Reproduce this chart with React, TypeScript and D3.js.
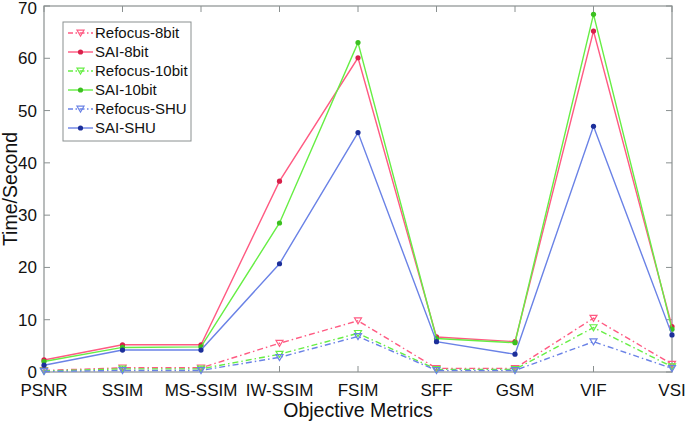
import React from "react";
import * as d3 from "d3";

const categories = ["PSNR", "SSIM", "MS-SSIM", "IW-SSIM", "FSIM", "SFF", "GSM", "VIF", "VSI"];
const yTicks = [0, 10, 20, 30, 40, 50, 60, 70];

const refocus8 = [0.3, 0.8, 0.8, 5.5, 9.8, 0.7, 0.7, 10.3, 1.5];
const sai8 = [2.3, 5.2, 5.2, 36.5, 60.1, 6.7, 5.8, 65.2, 8.7];
const refocus10 = [0.2, 0.6, 0.6, 3.4, 7.4, 0.5, 0.5, 8.5, 1.0];
const sai10 = [2.0, 4.7, 4.8, 28.5, 63.0, 6.4, 5.6, 68.4, 8.2];
const refocusSHU = [0.1, 0.3, 0.3, 2.8, 6.8, 0.3, 0.3, 5.8, 0.7];
const saiSHU = [1.3, 4.2, 4.2, 20.7, 45.8, 5.8, 3.4, 47.0, 7.1];

const seriesNames = ["Refocus-8bit", "SAI-8bit", "Refocus-10bit", "SAI-10bit", "Refocus-SHU", "SAI-SHU"];
const seriesData = [refocus8, sai8, refocus10, sai10, refocusSHU, saiSHU];

const RED = "#ff5a82";
const GREEN = "#66ee44";
const BLUE = "#6a82e6";
const colors = [RED, RED, GREEN, GREEN, BLUE, BLUE];
const markerColors = ["#ff5a82", "#d8204a", "#66ee44", "#3cc020", "#6a82e6", "#1c2f9a"];
const dashed = [true, false, true, false, true, false];

export default function App() {
  const W = 685, H = 422;
  const left = 44, right = 672, top = 6, bottom = 372;
  const x = d3.scalePoint<string>().domain(categories).range([left, right]);
  const y = d3.scaleLinear().domain([0, 70]).range([bottom, top]);
  const line = d3.line<number>().x((_, i) => x(categories[i]) as number).y((d) => y(d));
  const axisColor = "#8a9090";
  const font = "'Liberation Sans', Arial, Helvetica, sans-serif";

  const tri = (cx: number, cy: number, s: number) =>
    `M${cx - s},${cy - s * 0.8}L${cx + s},${cy - s * 0.8}L${cx},${cy + s * 0.9}Z`;

  const marker = (k: number, cx: number, cy: number, key: string) =>
    dashed[k] ? (
      <path key={key} d={tri(cx, cy, 3.5)} fill="none" stroke={markerColors[k]} strokeWidth={1.2} />
    ) : (
      <g key={key}>
        <circle cx={cx} cy={cy} r={2.6} fill={markerColors[k]} />
      </g>
    );

  const legX = 63, legY = 22, legW = 128, legH = 119;

  return (
    <svg width={W} height={H} style={{ position: "absolute", left: 0, top: 0 }}>
      <rect x={0} y={0} width={W} height={H} fill="#fff" />
      <rect x={left} y={top} width={right - left} height={bottom - top} fill="none" stroke={axisColor} strokeWidth={1.2} />
      {categories.map((c) => {
        const px = x(c) as number;
        return (
          <g key={c}>
            <line x1={px} x2={px} y1={bottom} y2={bottom - 6} stroke={axisColor} />
            <line x1={px} x2={px} y1={top} y2={top + 6} stroke={axisColor} />
            <text x={px} y={396} textAnchor="middle" fontFamily={font} fontSize={17} fill="#111">{c}</text>
          </g>
        );
      })}
      {yTicks.map((t) => (
        <g key={t}>
          <line x1={left} x2={left + 6} y1={y(t)} y2={y(t)} stroke={axisColor} />
          <line x1={right} x2={right - 6} y1={y(t)} y2={y(t)} stroke={axisColor} />
          <text x={37} y={Math.max(y(t) + 6, 14)} textAnchor="end" fontFamily={font} fontSize={17} fill="#111">{t}</text>
        </g>
      ))}
      <text x={358} y={417} textAnchor="middle" fontFamily={font} fontSize={19.5} fill="#111">Objective Metrics</text>
      <text transform={`translate(17,${(top + bottom) / 2}) rotate(-90)`} textAnchor="middle" fontFamily={font} fontSize={19.5} fill="#111">Time/Second</text>
      {seriesData.map((s, k) => (
        <g key={k}>
          <path d={line(s) as string} fill="none" stroke={colors[k]} strokeWidth={1.4}
            strokeDasharray={dashed[k] ? "6,3,1.5,3" : undefined} />
          {s.map((v, i) => marker(k, x(categories[i]) as number, y(v), `${k}-${i}`))}
        </g>
      ))}
      <rect x={legX} y={legY} width={legW} height={legH} fill="#fff" stroke={axisColor} strokeWidth={1} />
      {seriesNames.map((n, k) => {
        const ly = 33 + k * 19;
        return (
          <g key={n}>
            <line x1={68} x2={93} y1={ly} y2={ly} stroke={colors[k]} strokeWidth={1.4}
              strokeDasharray={dashed[k] ? "5,2.5,1.5,2.5" : undefined} />
            {marker(k, 80.5, ly, `l${k}`)}
            <text x={95} y={ly + 5} fontFamily={font} fontSize={15} fill="#111">{n}</text>
          </g>
        );
      })}
    </svg>
  );
}
